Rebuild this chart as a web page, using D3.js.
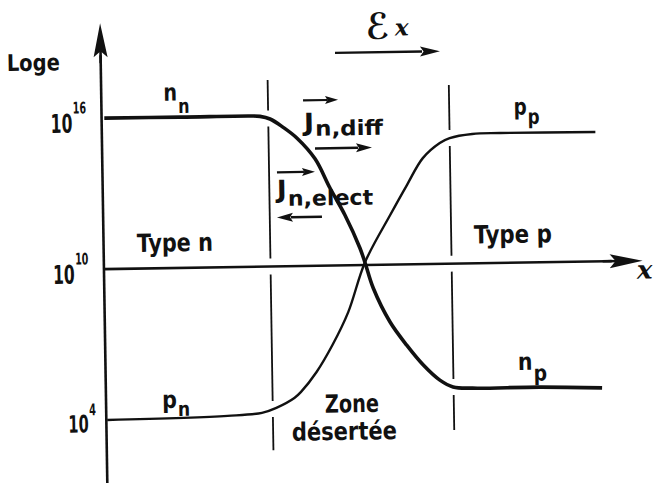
<!DOCTYPE html>
<html><head><meta charset="utf-8">
<script src="https://cdn.jsdelivr.net/npm/d3@7"></script>
<style>
html,body{margin:0;padding:0;background:#fff;}
svg{display:block;}
text{font-family:"DejaVu Sans Condensed","DejaVu Sans",sans-serif;font-weight:bold;fill:#111;}
</style></head><body>
<svg id="chart" width="657" height="485"></svg>
<script>
// Position across the junction, normalised so that the depletion edges sit at -1 and +1
const nPosition = [-2.81,-1.97,-1.20,-1.09,-0.98,-0.84,-0.685,-0.49,-0.33,-0.17,-0.01,0.045,0.13,0.31,0.49,0.67,0.85,0.995,1.21,1.95,2.64];
// log10 of the electron density n
const nLog = [16.0,15.99,15.99,15.97,15.86,15.53,15.08,14.25,13.08,12.0,10.68,10.08,9.08,7.72,6.79,5.99,5.38,5.10,5.04,5.04,4.97];
const pPosition = [-2.83,-1.50,-1.12,-0.96,-0.76,-0.685,-0.51,-0.33,-0.15,0.045,0.33,0.52,0.70,0.89,1.0,1.25,1.56,2.61];
// log10 of the hole density p
const pLog = [4.0,4.09,4.19,4.38,4.76,5.0,5.78,6.84,8.14,10.12,11.97,13.15,14.21,14.80,14.99,15.14,15.16,15.14];
const tickExponents = [4, 10, 16];
const depletionEdges = [-1, 1];
const edgeTop = [17.41, 17.10];
const edgeBottom = [2.70, 3.39];
const axisXStart = -2.84, axisXEnd = 3.11;
const axisYStart = 1.5, axisYEnd = 19.77;

const ink = "#111";
const svg = d3.select("#chart");
svg.append("rect").attr("width", 657).attr("height", 485).attr("fill", "#fff");
const g = svg.append("g").attr("transform", "rotate(-0.9,365,263)");

const x = d3.scaleLinear().domain([-1, 1]).range([270.5, 451.6]);
const y = d3.scaleLog().domain([1e4, 1e16]).range([416, 114]);
const yE = e => y(Math.pow(10, e));

function arrow(x1, y1, x2, y2, len, half, w) {
  const a = Math.atan2(y2 - y1, x2 - x1);
  const bx = x2 - len * Math.cos(a), by = y2 - len * Math.sin(a);
  g.append("line").attr("x1", x1).attr("y1", y1).attr("x2", bx + Math.cos(a) * 2).attr("y2", by + Math.sin(a) * 2)
    .attr("stroke", ink).attr("stroke-width", w);
  const nx = -Math.sin(a) * half, ny = Math.cos(a) * half;
  g.append("path").attr("d", `M${x2},${y2}L${bx + nx},${by + ny}L${bx + len * 0.18 * Math.cos(a)},${by + len * 0.18 * Math.sin(a)}L${bx - nx},${by - ny}Z`)
    .attr("fill", ink);
}
function label(str, px, py, size, len) {
  const t = g.append("text").attr("x", px).attr("y", py).attr("font-size", size).text(str);
  if (len) t.attr("textLength", len).attr("lengthAdjust", "spacingAndGlyphs");
  return t;
}
// main text with a lowered (dy > 0) or raised (dy < 0) index, squeezed to a given width
function indexed(main, idx, px, py, size, idxSize, dy, width) {
  const t = g.append("text").attr("font-size", size);
  t.append("tspan").text(main);
  t.append("tspan").attr("font-size", idxSize).attr("dx", 1).attr("dy", dy).text(idx);
  const natural = t.node().getComputedTextLength();
  t.attr("transform", `translate(${px},${py}) scale(${width / natural},1)`);
  return t;
}

// depletion-zone boundaries, broken where the curves and the axis pass
const interp = (xs, vs, at) => {
  for (let i = 1; i < xs.length; i++) if (at <= xs[i]) {
    const t = (at - xs[i - 1]) / (xs[i] - xs[i - 1]);
    return vs[i - 1] + t * (vs[i] - vs[i - 1]);
  }
  return vs[vs.length - 1];
};
depletionEdges.forEach((d, i) => {
  const gaps = [interp(nPosition, nLog, d), 10, interp(pPosition, pLog, d)].map(yE).sort((a, b) => a - b);
  let top = yE(edgeTop[i]);
  const stops = [];
  gaps.forEach(gy => { stops.push([top, gy - 8]); top = gy + 8; });
  stops.push([top, yE(edgeBottom[i])]);
  stops.forEach(([a, b]) => g.append("line").attr("x1", x(d)).attr("x2", x(d)).attr("y1", a).attr("y2", b)
    .attr("stroke", ink).attr("stroke-width", 1.8));
});

// axes
g.append("line").attr("x1", x(axisXStart)).attr("x2", x(axisXStart)).attr("y1", yE(axisYStart)).attr("y2", yE(axisYEnd) + 20)
  .attr("stroke", ink).attr("stroke-width", 2.6);
arrow(x(axisXStart), yE(axisYEnd) + 40, x(axisXStart), yE(axisYEnd), 34, 7, 2.6);
g.append("line").attr("x1", x(axisXStart)).attr("x2", x(axisXEnd) - 20).attr("y1", yE(10)).attr("y2", yE(10))
  .attr("stroke", ink).attr("stroke-width", 2.6);
arrow(x(axisXEnd) - 40, yE(10), x(axisXEnd), yE(10), 33, 7, 2.6);

// tick labels 10^k
tickExponents.forEach(k => {
  const ty = yE(k);
  if (k >= 10) indexed("10", String(k), x(axisXStart) - 51, ty + 14, 26, 16, -19, 35);
  else indexed("10", String(k), x(axisXStart) - 38, ty + 12, 24, 16, -17, 27);
});

// concentration curves
const line = d3.line().x(d => x(d[0])).y(d => yE(d[1])).curve(d3.curveCatmullRom.alpha(0.5));
g.append("path").attr("d", line(d3.zip(pPosition, pLog))).attr("fill", "none").attr("stroke", ink).attr("stroke-width", 2.4);
g.append("path").attr("d", line(d3.zip(nPosition, nLog))).attr("fill", "none").attr("stroke", ink).attr("stroke-width", 3.6);

// labels
label("Loge", 10, 65.5, 23, 53);
indexed("n", "n", 166, 97.5, 24, 20, 12.6, 25);
indexed("p", "p", 516, 117.2, 23, 21, 9.4, 25);
indexed("n", "p", 516.3, 372.4, 24, 22, 11, 28);
indexed("p", "n", 160, 404.8, 24, 20, 8.2, 27);
label("Type n", 137.2, 248.4, 25, 76);
label("Type p", 474.3, 245.2, 25, 78);
label("Zone", 322.7, 412, 25, 54);
label("désertée", 289.2, 439.5, 25, 105);
label("ℰ", 369.5, 39, 36);
label("x", 398.6, 36, 23).style("font-family", "'DejaVu Serif',serif").style("font-style", "italic");
label("x", 636.8, 283, 26).style("font-family", "'DejaVu Serif',serif").style("font-style", "italic");

// field and current arrows
arrow(338.3, 52.4, 443.3, 52.4, 20, 5, 2.4);
arrow(305.6, 99.4, 340.6, 99.4, 13, 4, 2.2);
indexed("J", "n,diff", 306, 130, 25, 21, 5, 78);
arrow(316.8, 147.7, 373.8, 147.7, 16, 4.5, 2.4);
arrow(278.4, 171, 316.4, 171, 13, 4, 2.2);
indexed("J", "n,elect", 278, 196.6, 25, 21, 8, 95);
arrow(322.7, 216.1, 277.7, 216.1, 16, 4.5, 2.4);
</script></body></html>
